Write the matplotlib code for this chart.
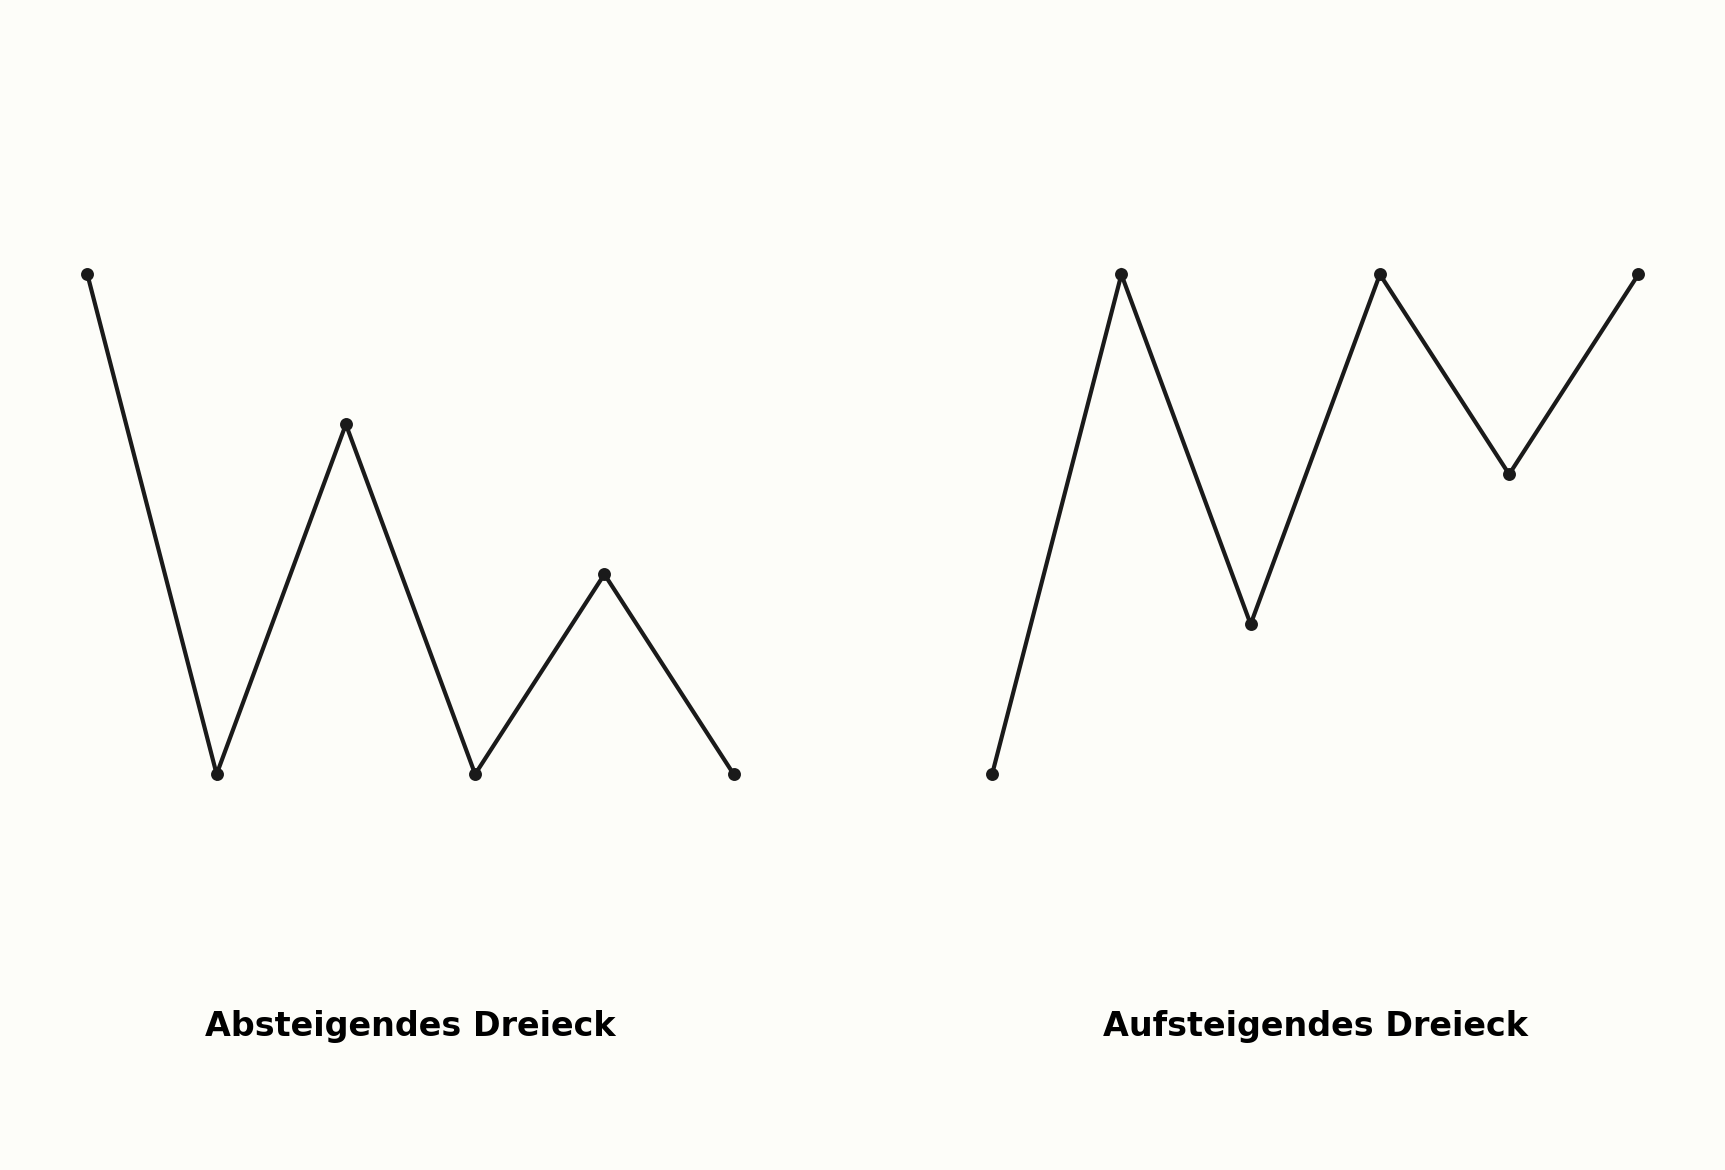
import matplotlib.pyplot as plt
import numpy as np

# price swings, 0 = support / 1 = resistance
descending = [1.0, 0.0, 0.7, 0.0, 0.4, 0.0]
ascending = [0.0, 1.0, 0.3, 1.0, 0.6, 1.0]
labels = ["Absteigendes Dreieck", "Aufsteigendes Dreieck"]

bg = "#fdfdf9"
ink = "#1a1a1a"

fig = plt.figure(figsize=(11.5, 7.8), dpi=150, facecolor=bg)
ax = fig.add_axes([0, 0, 1, 1])
ax.set_facecolor(bg)

gap = 7  # second pattern starts two steps after the first ends
x1 = np.arange(len(descending))
x2 = np.arange(len(ascending)) + gap

for x, y, lab in [(x1, descending, labels[0]), (x2, ascending, labels[1])]:
    ax.plot(x, y, color=ink, lw=2.0, marker="o", ms=5.2, solid_joinstyle="miter")
    ax.text(x.mean(), -0.505, lab, ha="center", va="center",
            fontsize=16, fontweight="bold", color="black")

ax.set_xlim(-0.676, 12.67)
ax.set_ylim(-0.792, 1.549)
ax.axis("off")

fig.savefig("out.png", dpi=150, facecolor=bg)
